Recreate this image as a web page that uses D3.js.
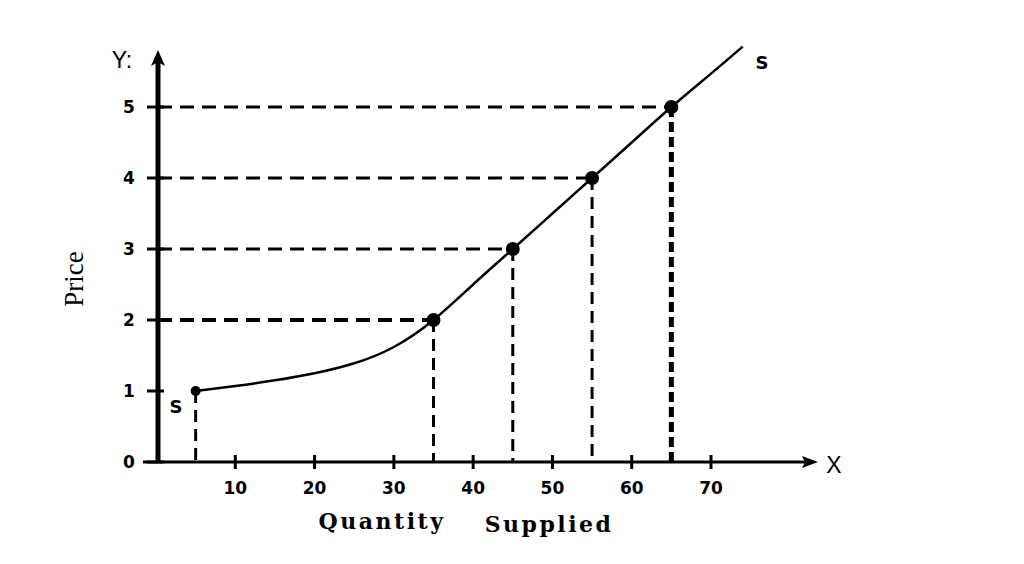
<!DOCTYPE html>
<html>
<head>
<meta charset="utf-8">
<script src="https://cdn.jsdelivr.net/npm/d3@7"></script>
<style>
  body { margin: 0; background: #fff; }
  svg { display: block; }
</style>
</head>
<body>
<div id="chart"></div>
<script>
// supply schedule points (quantity, price)
const quantities = [5, 35, 45, 55, 65];
const prices = [1, 2, 3, 4, 5];
// points along the drawn supply curve
const curveQty = [5, 10, 15, 20, 25, 30, 35, 40, 45, 50, 55, 60, 65, 70, 74];
const curvePrice = [1, 1.07, 1.15, 1.25, 1.39, 1.62, 2, 2.5, 3, 3.5, 4, 4.5, 5, 5.47, 5.85];
const xTicks = [10, 20, 30, 40, 50, 60, 70];
const yTicks = [0, 1, 2, 3, 4, 5];

const width = 1024, height = 564;
const sans = "DejaVu Sans, Verdana, sans-serif";

const svg = d3.select("#chart").append("svg")
    .attr("width", width)
    .attr("height", height);

const x = d3.scaleLinear().domain([0, 70]).range([156, 711]);
const y = d3.scaleLinear().domain([0, 5]).range([462, 107]);

const x0 = x(0) + 2;  // y axis position
const y0 = y(0);

// dashed guide lines
quantities.forEach((q, i) => {
    const p = prices[i];
    if (p > 1) {
        svg.append("line")
            .attr("x1", x0).attr("x2", x(q))
            .attr("y1", y(p)).attr("y2", y(p))
            .attr("stroke", "#000")
            .attr("stroke-width", p === 2 ? 4 : 3)
            .attr("stroke-dasharray", "14,8");
    }
    svg.append("line")
        .attr("x1", x(q)).attr("x2", x(q))
        .attr("y1", y(p)).attr("y2", y0)
        .attr("stroke", "#000")
        .attr("stroke-width", q === 65 ? 5 : 3)
        .attr("stroke-dasharray", q === 65 ? "10,5" : "12,7");
});

// x axis
svg.append("line")
    .attr("x1", 143).attr("x2", 808)
    .attr("y1", y0).attr("y2", y0)
    .attr("stroke", "#000").attr("stroke-width", 3);
svg.append("path")
    .attr("d", `M818,${y0} L802,${y0 - 6} L805,${y0} L802,${y0 + 6} Z`)
    .attr("fill", "#000");

svg.selectAll(".xtick").data(xTicks).enter().append("line")
    .attr("x1", d => x(d)).attr("x2", d => x(d))
    .attr("y1", y0 - 7).attr("y2", y0 + 7)
    .attr("stroke", "#000").attr("stroke-width", 3);

svg.selectAll(".xlab").data(xTicks).enter().append("text")
    .attr("x", d => x(d))
    .attr("y", y0 + 32)
    .attr("text-anchor", "middle")
    .attr("font-family", sans)
    .attr("font-weight", "bold")
    .attr("font-size", 17)
    .text(d => d);

// y axis
svg.append("line")
    .attr("x1", x0).attr("x2", x0)
    .attr("y1", y0).attr("y2", 60)
    .attr("stroke", "#000").attr("stroke-width", 5);
svg.append("path")
    .attr("d", `M${x0},50 L${x0 - 7},66 L${x0},62 L${x0 + 7},66 Z`)
    .attr("fill", "#000");

svg.selectAll(".ytick").data(yTicks).enter().append("line")
    .attr("x1", x0 - 11).attr("x2", x0 + 6)
    .attr("y1", d => y(d)).attr("y2", d => y(d))
    .attr("stroke", "#000").attr("stroke-width", 3);

svg.selectAll(".ylab").data(yTicks).enter().append("text")
    .attr("x", x0 - 29)
    .attr("y", d => y(d) + 6)
    .attr("text-anchor", "middle")
    .attr("font-family", sans)
    .attr("font-weight", "bold")
    .attr("font-size", 17)
    .text(d => d);

// axis letters
svg.append("text")
    .attr("x", 122).attr("y", 68)
    .attr("text-anchor", "middle")
    .attr("font-family", "Liberation Sans, Arial, sans-serif")
    .attr("font-size", 23)
    .text("Y:");
svg.append("text")
    .attr("x", 834).attr("y", 473)
    .attr("text-anchor", "middle")
    .attr("font-family", "Liberation Sans, Arial, sans-serif")
    .attr("font-size", 23)
    .text("X");

// supply curve
const line = d3.line()
    .x(d => x(d[0]))
    .y(d => y(d[1]))
    .curve(d3.curveNatural);

svg.append("path")
    .datum(curveQty.map((q, i) => [q, curvePrice[i]]))
    .attr("d", line)
    .attr("fill", "none")
    .attr("stroke", "#000")
    .attr("stroke-width", 2.5);

// points
svg.selectAll(".pt").data(quantities).enter().append("circle")
    .attr("cx", d => x(d))
    .attr("cy", (d, i) => y(prices[i]))
    .attr("r", (d, i) => i === 0 ? 5 : 7)
    .attr("fill", "#000");

// S labels
svg.append("text")
    .attr("x", 176).attr("y", 413)
    .attr("text-anchor", "middle")
    .attr("font-family", sans)
    .attr("font-weight", "bold")
    .attr("font-size", 18)
    .text("S");
svg.append("text")
    .attr("x", 762).attr("y", 69)
    .attr("text-anchor", "middle")
    .attr("font-family", sans)
    .attr("font-weight", "bold")
    .attr("font-size", 18)
    .text("S");

// axis titles
svg.append("text")
    .attr("x", 382).attr("y", 529)
    .attr("text-anchor", "middle")
    .attr("font-family", "DejaVu Serif, serif")
    .attr("font-weight", "bold")
    .attr("font-size", 22)
    .attr("letter-spacing", 2.5)
    .text("Quantity");
svg.append("text")
    .attr("x", 549).attr("y", 532)
    .attr("text-anchor", "middle")
    .attr("font-family", "DejaVu Serif, serif")
    .attr("font-weight", "bold")
    .attr("font-size", 22)
    .attr("letter-spacing", 2.5)
    .text("Supplied");

svg.append("text")
    .attr("transform", "translate(83,279) rotate(-90)")
    .attr("text-anchor", "middle")
    .attr("font-family", "Liberation Serif, serif")
    .attr("font-size", 27)
    .text("Price");
</script>
</body>
</html>
